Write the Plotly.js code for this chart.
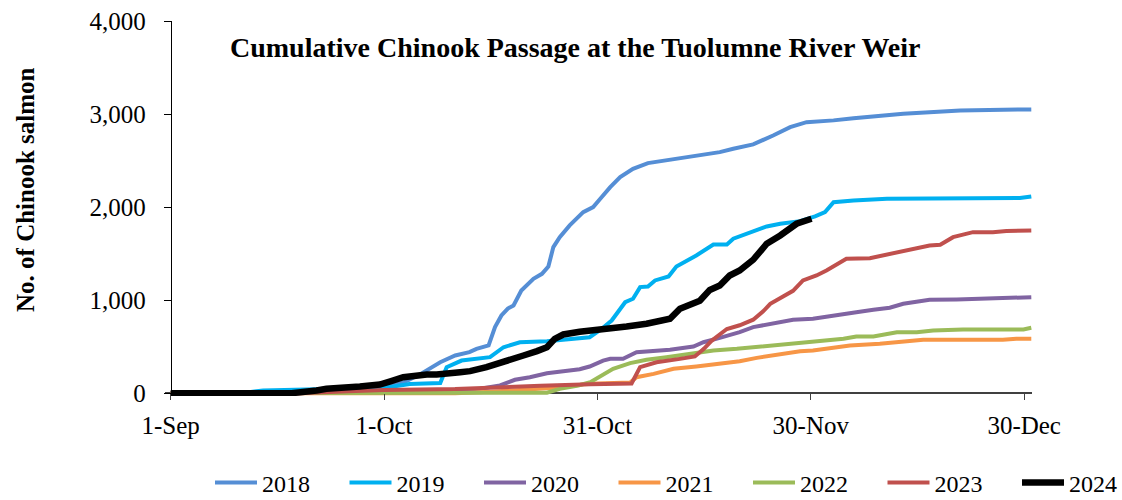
<!DOCTYPE html>
<html>
<head>
<meta charset="utf-8">
<script src="https://cdn.plot.ly/plotly-3.0.1.min.js"></script>
<style>html,body{margin:0;padding:0;background:#fff;}#chart{width:1122px;height:500px;}</style>
</head>
<body>
<div id="chart"></div>
<script>
// x values: days since 1-Sep
const tickDays = [0, 30, 60, 90, 120];
const tickLabels = ['1-Sep', '1-Oct', '31-Oct', '30-Nov', '30-Dec'];
const yTickVals = [0, 1000, 2000, 3000, 4000];
const yTickLabels = ['0', '1,000', '2,000', '3,000', '4,000'];
const seriesNames = ['2018', '2019', '2020', '2021', '2022', '2023', '2024'];

const days2018 = [0,12,16,22,28,30,31,32.7,35,37.9,40,42,43,44.7,45.6,46.5,47.4,48.2,49.3,51,52.2,53.1,53.8,54.7,56.1,58,59.4,60.4,61.1,61.8,63.2,65,67.1,71.1,74.4,77.2,79.1,81.9,84.7,87.1,89.4,91.3,93.2,96,103,111,114.7,121];
const vals2018 = [0,0,15,30,50,70,80,115,200,333,405,441,477,513,710,835,910,943,1104,1230,1283,1362,1570,1677,1803,1946,2000,2090,2161,2215,2322,2412,2473,2520,2555,2591,2627,2674,2770,2860,2913,2920,2932,2956,3004,3039,3046,3050];

const days2019 = [0,10,13,20,28,31.3,33.6,37.9,38.8,40.9,44.9,46.8,49.1,52.9,58.9,60.4,62,63.9,65,66,67.1,68.1,70,71.1,73.9,76.3,78.2,79.1,81,83.8,85.7,88.5,90.6,92,93.2,96,100.7,119.4,121];
const vals2019 = [0,0,30,40,55,72,100,110,280,351,387,494,548,559,602,680,781,978,1015,1140,1147,1212,1255,1362,1480,1598,1598,1660,1714,1792,1821,1849,1900,1946,2053,2071,2090,2097,2115];

const days2020 = [0,25,30,36,40,43.5,46.3,48.4,50.5,52.9,55.2,57.5,58.9,60.8,61.8,63.6,65.5,67.4,70.2,73.5,74.9,77.2,80,81.9,84.7,87.5,90.3,92.2,93.6,96.4,98.8,101.1,103,106.7,110.5,116.1,121];
const vals2020 = [0,0,10,25,40,47,83,144,172,215,237,258,287,351,370,370,441,452,467,502,548,595,656,710,753,789,800,825,835,871,896,918,961,1004,1007,1015,1032];

const days2021 = [0,40,45,50,55,58,60,64.6,65.5,67.9,70.7,73.9,77.2,80,82.4,85.7,88.5,90.3,93.2,95.5,99.7,103,105.8,117,118.9,121];
const vals2021 = [0,0,15,35,65,95,105,115,172,208,262,287,316,344,380,416,452,459,495,513,531,559,574,574,585,585];

const days2022 = [0,50,52.9,54.7,57.3,59,60.4,62.2,64.6,66.9,69.7,73,76.3,79.6,83.3,86.6,90.3,93.2,94.6,96.4,98.8,102.1,104.9,107.2,111.4,119.9,121];
const vals2022 = [0,0,5,47,83,118,180,262,323,359,387,423,459,477,502,524,548,565,585,610,610,656,656,674,685,685,703];

const days2023 = [0,18,25,30,40,47,52,59,64.8,66,68.3,71.6,73.7,75,76,77,78.2,80,81.9,83.3,84.3,86.1,87.5,88.9,90.8,92.2,93.9,95,98.3,100.7,103.5,106.7,108.2,110,112.8,115.6,117.5,121];
const vals2023 = [0,0,20,35,45,70,80,95,105,280,333,369,395,480,560,620,690,730,790,880,960,1040,1100,1212,1265,1319,1391,1444,1451,1491,1527,1588,1595,1677,1731,1731,1742,1749];

const days2024 = [0,17,20.5,21.9,26.6,29.4,31,32.7,36,37.4,40.7,42.1,44.4,45.8,47.6,49.6,51.5,52.9,54,55.2,57.5,59.9,61.8,64.1,66.9,70.2,71.6,73,74.4,75.8,77.2,78.6,80,81.9,83.8,85.7,88,90.1];
const vals2024 = [0,0,30,47,72,93,130,172,201,201,226,237,280,310,360,405,452,494,585,631,660,676,703,717,746,800,907,943,994,1110,1158,1265,1319,1434,1606,1695,1821,1875];

const seriesDays = [days2018, days2019, days2020, days2021, days2022, days2023, days2024];
const seriesVals = [vals2018, vals2019, vals2020, vals2021, vals2022, vals2023, vals2024];
const colors = ['#558ED5', '#00B0F0', '#8064A2', '#F79646', '#9BBB59', '#C0504D', '#000000'];
const widths = [4, 4, 4, 4, 4, 4, 6.5];

const font = "'Liberation Serif', 'Times New Roman', serif";

const W = 1122, H = 500;
const mL = 165, mR = 90, mT = 21, mB = 104;
const plotW = W - mL - mR, plotH = H - mT - mB;
const xMin = -0.8, xMax = 121.1, yMin = -30, yMax = 4000;

// legend entries: one legend box per series, spaced like the reference
const legendIds = ['legend', 'legend2', 'legend3', 'legend4', 'legend5', 'legend6', 'legend7'];
const legendStartPx = 210, legendStepPx = 134.5, legendMidPx = 483;

const traces = seriesNames.map((n, i) => ({
  type: 'scatter', mode: 'lines', name: n,
  x: seriesDays[i], y: seriesVals[i],
  line: {color: colors[i], width: widths[i]},
  legend: legendIds[i],
  hoverinfo: 'x+y+name'
}));

const layout = {
  width: W, height: H,
  margin: {l: mL, r: mR, t: mT, b: mB, autoexpand: false},
  paper_bgcolor: '#fff', plot_bgcolor: '#fff',
  font: {family: font, color: '#000', size: 25},
  showlegend: true,
  xaxis: {
    range: [xMin, xMax], anchor: 'free', position: (0 - yMin) / (yMax - yMin),
    tickmode: 'array', tickvals: tickDays, ticktext: tickLabels,
    showline: false, zeroline: false, showgrid: false,
    ticks: 'outside', ticklen: 6, tickcolor: '#404040', tickwidth: 1,
    ticklabelstandoff: 4,
    tickfont: {family: font, size: 25, color: '#000'}
  },
  yaxis: {
    range: [yMin, yMax], anchor: 'free', position: (0 - xMin) / (xMax - xMin),
    tickmode: 'array', tickvals: yTickVals, ticktext: yTickLabels,
    showline: true, linecolor: '#000', linewidth: 1,
    zeroline: true, zerolinecolor: '#404040', zerolinewidth: 1.5,
    showgrid: false,
    ticks: 'outside', ticklen: 7, tickcolor: '#000', tickwidth: 1,
    ticklabelstandoff: 13,
    tickfont: {family: font, size: 25, color: '#000'}
  },
  annotations: [{
    text: '<b>Cumulative Chinook Passage at the Tuolumne River Weir</b>',
    xref: 'paper', yref: 'paper', x: (575 - mL) / plotW, y: (H - mB - 47) / plotH,
    xanchor: 'center', yanchor: 'middle',
    showarrow: false, font: {family: font, size: 28, color: '#000'}
  }, {
    text: '<b>No. of Chinook salmon</b>',
    xref: 'paper', yref: 'paper', x: (25 - mL) / plotW, y: (H - mB - 190) / plotH,
    xanchor: 'center', yanchor: 'middle', textangle: -90,
    showarrow: false, font: {family: font, size: 25, color: '#000'}
  }]
};

legendIds.forEach((id, i) => {
  layout[id] = {
    orientation: 'h', xref: 'container', yref: 'container',
    xanchor: 'left', yanchor: 'middle',
    x: (legendStartPx + i * legendStepPx) / W,
    y: (H - legendMidPx) / H,
    itemwidth: 42,
    bgcolor: 'rgba(0,0,0,0)',
    font: {family: font, size: 24, color: '#000'}
  };
});

Plotly.newPlot('chart', traces, layout, {displayModeBar: false});
</script>
</body>
</html>
